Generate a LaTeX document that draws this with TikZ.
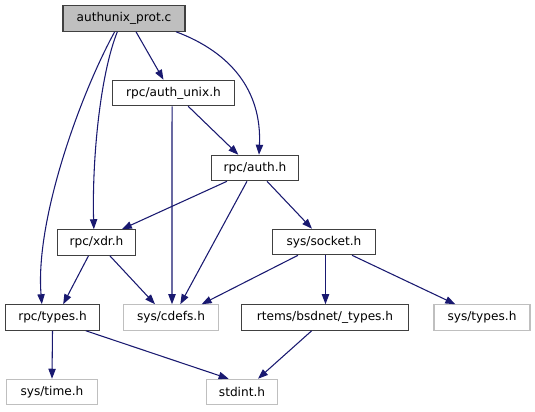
\documentclass[tikz,border=0pt]{standalone}
\usepackage{fontspec}
\setmainfont{DejaVu Sans}
\usetikzlibrary{arrows.meta}
\definecolor{edgec}{HTML}{191970}
\definecolor{missc}{HTML}{BFBFBF}
\tikzset{
  file/.style={draw=black!75, line width=0.9pt, minimum height=19pt, inner sep=0pt, font=\fontsize{9.1pt}{11pt}\selectfont, anchor=center},
  missing/.style={file, draw=missc},
  topnode/.style={file, fill=missc},
  dep/.style={draw=edgec, line width=0.8pt, -{Triangle[length=7.5pt,width=5.5pt]}}
}
\begin{document}
\begin{tikzpicture}[x=0.75pt,y=-0.75pt]
\useasboundingbox (0,0) rectangle (535,411);
\node[topnode, minimum width=91.5pt] (top) at (124,18.5) {authunix\_prot.c};
\node[file, minimum width=92pt] (aunix) at (173.5,93) {rpc/auth\_unix.h};
\node[file, minimum width=65pt] (auth) at (255,168) {rpc/auth.h};
\node[file, minimum width=77.5pt] (sock) at (324,242) {sys/socket.h};
\node[file, minimum width=59pt] (xdr) at (96.5,242.5) {rpc/xdr.h};
\node[file, minimum width=71pt] (types) at (52.5,317.5) {rpc/types.h};
\node[missing, minimum width=71pt] (cdefs) at (171,317.5) {sys/cdefs.h};
\node[file, minimum width=125pt] (bsd) at (325,317.5) {rtems/bsdnet/\_types.h};
\node[missing, minimum width=72pt] (stypes) at (482,317.5) {sys/types.h};
\node[missing, minimum width=68pt] (time) at (52,392) {sys/time.h};
\node[missing, minimum width=53pt] (stdint) at (242,392) {stdint.h};

\draw[dep] ([xshift=9pt]top.south) -- ([xshift=-7.5pt]aunix.north);
\draw[dep] ([xshift=39pt]top.south) .. controls (230,52) and (262,90) .. ([xshift=3pt]auth.north);
\draw[dep] ([xshift=-5pt]top.south) .. controls (100,75) and (92,160) .. ([xshift=-2pt]xdr.north);
\draw[dep] ([xshift=-7pt]top.south) .. controls (80,95) and (35,220) .. ([xshift=-8pt]types.north);
\draw[dep] ([xshift=-1.1pt]aunix.south) -- ([xshift=0.75pt]cdefs.north);
\draw[dep] ([xshift=11pt]aunix.south) -- ([xshift=-12.5pt]auth.north);
\draw[dep] ([xshift=-21pt]auth.south) -- ([xshift=19pt]xdr.north);
\draw[dep] ([xshift=-6pt]auth.south) -- ([xshift=7pt]cdefs.north);
\draw[dep] ([xshift=9pt]auth.south) -- ([xshift=-9pt]sock.north);
\draw[dep] ([xshift=-19.5pt]sock.south) -- ([xshift=23pt]cdefs.north);
\draw[dep] ([xshift=1.125pt]sock.south) -- ([xshift=0.375pt]bsd.north);
\draw[dep] ([xshift=21pt]sock.south) -- ([xshift=-20pt]stypes.north);
\draw[dep] ([xshift=-6pt]xdr.south) -- ([xshift=8pt]types.north);
\draw[dep] ([xshift=10pt]xdr.south) -- ([xshift=-12pt]cdefs.north);
\draw[dep] ([xshift=0pt]types.south) -- ([xshift=0pt]time.north);
\draw[dep] ([xshift=25pt]types.south) -- ([xshift=-10pt]stdint.north);
\draw[dep] ([xshift=-10pt]bsd.south) -- ([xshift=12pt]stdint.north);
\end{tikzpicture}
\end{document}
